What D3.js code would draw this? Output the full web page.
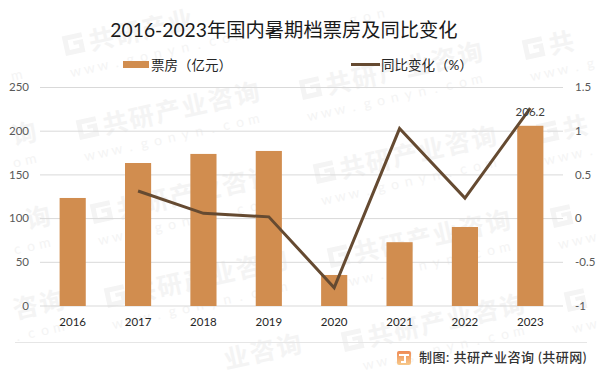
<!DOCTYPE html>
<html><head><meta charset="utf-8">
<script src="https://cdn.jsdelivr.net/npm/d3@7"></script>
<style>html,body{margin:0;padding:0;background:#fff}svg{display:block}
text{font-family:Lato,"Noto Sans CJK SC",sans-serif}</style></head>
<body><svg id="c" width="599" height="375"></svg>
<script>
const years=["2016","2017","2018","2019","2020","2021","2022","2023"];
const boxOffice=[123.6,163.6,174,177.4,35.5,73,90.4,206.2];
const yoyChange=[null,0.316,0.06,0.02,-0.79,1.03,0.235,1.265];
const leftTicks=[0,50,100,150,200,250];
const rightTicks=[-1,-0.5,0,0.5,1,1.5];
const title="2016-2023年国内暑期档票房及同比变化";
const legendBar="票房（亿元）", legendLine="同比变化（%）";
const source="制图: 共研产业咨询 (共研网)";
const wmName="共研产业咨询", wmUrl="www.gonyn.com";

const svg=d3.select("#c");
const W=599,H=375,m={l:40,r:36,t:87.5,b:69};
const x=d3.scaleBand().domain(years).range([m.l,W-m.r]).paddingInner(0.6).paddingOuter(0.3);
const yL=d3.scaleLinear().domain([0,250]).range([H-m.b,m.t]);
const yR=d3.scaleLinear().domain([-1,1.5]).range([H-m.b,m.t]);
const cx=d=>x(d)+x.bandwidth()/2;

// watermark: behind the marks, one glyph at a time so that nothing is cut at the page edge
const wm=svg.append("g").attr("fill","#f4f4f4");
const ang=-12.5*Math.PI/180, ca=Math.cos(ang), sa=Math.sin(ang);
function glyph(ox,oy,dx,dy,ch,size,weight,half){
  const px=ox+dx*ca-dy*sa, py=oy+dx*sa+dy*ca;
  if(px<half+1||px>W-half-1||py<size+1||py>H-3)return;
  wm.append("text").attr("transform",`translate(${px},${py}) rotate(-12.5)`).attr("text-anchor","middle")
    .attr("font-size",size).attr("font-weight",weight).text(ch);
}
for(let i=-1;i<=3;i++)for(let j=-2;j<=5;j++){
  const ox=80+223*(i)+14*j-223, oy=140-40*i+84*j+40;
  if(ox>=8&&ox<W-24&&oy>30&&oy<H-2){
    wm.append("path").attr("transform",`translate(${ox},${oy}) rotate(-12.5)`)
      .attr("d","M0-20H20V-15H5V-5H15V-9H10V-13H20V0H0Z");
  }
  [...wmName].forEach((ch,k)=>glyph(ox,oy,38+k*27,0,ch,25,700,13));
  [...wmUrl].forEach((ch,k)=>glyph(ox,oy,6+k*14,22,ch,14,400,5));
}

// grid
svg.append("g").selectAll("line").data(leftTicks).join("line")
 .attr("x1",m.l).attr("x2",W-m.r).attr("y1",d=>yL(d)).attr("y2",d=>yL(d))
 .attr("stroke","#d9d9d9").attr("stroke-width",1);

// bars
svg.append("g").selectAll("rect").data(years).join("rect")
 .attr("x",d=>x(d)).attr("width",x.bandwidth())
 .attr("y",(d,i)=>yL(boxOffice[i])).attr("height",(d,i)=>yL(0)-yL(boxOffice[i]))
 .attr("fill","#d18d4f");

// line
const pts=years.map((d,i)=>[d,yoyChange[i]]).filter(p=>p[1]!==null);
svg.append("path").datum(pts).attr("fill","none").attr("stroke","#654a31")
 .attr("stroke-width",3).attr("stroke-linejoin","miter")
 .attr("d",d3.line().x(p=>cx(p[0])).y(p=>yR(p[1])));

// axis labels
const axL=svg.append("g").attr("transform",`translate(${m.l},0)`).call(d3.axisLeft(yL).tickValues(leftTicks).tickSize(0).tickPadding(11));
const axR=svg.append("g").attr("transform",`translate(${W-m.r},0)`).call(d3.axisRight(yR).tickValues(rightTicks).tickFormat(d=>String(d)).tickSize(0).tickPadding(12));
const axB=svg.append("g").attr("transform",`translate(0,${H-m.b})`).call(d3.axisBottom(x).tickSize(0).tickPadding(12));
[axL,axR,axB].forEach(a=>a.select(".domain").remove());
const ff='Lato,"Noto Sans CJK SC",sans-serif';
axL.selectAll("text").attr("font-size",11.5).attr("fill","#595959").attr("dy","0.28em").style("font-family",ff);
axR.selectAll("text").attr("font-size",11.5).attr("fill","#595959").attr("dy","0.28em").style("font-family",ff);
axB.selectAll("text").attr("font-size",11.5).attr("fill","#262626").style("font-family",ff);

// data label
svg.append("text").attr("x",cx("2023")).attr("y",yL(boxOffice[7])-10).attr("text-anchor","middle")
 .attr("font-size",11.5).attr("fill","#404040").text(boxOffice[7]);

// title
svg.append("text").attr("x",284).attr("y",37).attr("text-anchor","middle").attr("font-size",19.3).attr("fill","#1a1a1a").text(title);

// legend
svg.append("rect").attr("x",123).attr("y",61).attr("width",26).attr("height",7).attr("fill","#d18d4f");
svg.append("text").attr("x",151).attr("y",69.5).attr("font-size",13.5).attr("fill","#262626").text(legendBar);
svg.append("line").attr("x1",351).attr("x2",380).attr("y1",64.5).attr("y2",64.5).attr("stroke","#654a31").attr("stroke-width",3);
svg.append("text").attr("x",381).attr("y",69.5).attr("font-size",13.5).attr("fill","#262626").text(legendLine);

// footer
svg.append("line").attr("x1",15).attr("x2",587).attr("y1",342.5).attr("y2",342.5).attr("stroke","#e6e6e6");
const grad=svg.append("defs").append("linearGradient").attr("id","lg").attr("x1",0).attr("y1",0).attr("x2",0).attr("y2",1);
grad.append("stop").attr("offset",0).attr("stop-color","#ee8a55");
grad.append("stop").attr("offset",1).attr("stop-color","#f7c98a");
const logo=svg.append("g").attr("transform","translate(397,351)");
logo.append("rect").attr("width",14).attr("height",14).attr("rx",2).attr("fill","url(#lg)");
logo.append("path").attr("d","M2 4H12M8 4V11H4").attr("fill","none").attr("stroke","#fff").attr("stroke-width",2);
svg.append("text").attr("x",419).attr("y",362).attr("font-size",13).attr("font-weight",500).attr("letter-spacing",0.5).attr("fill","#333").text(source);
</script></body></html>
